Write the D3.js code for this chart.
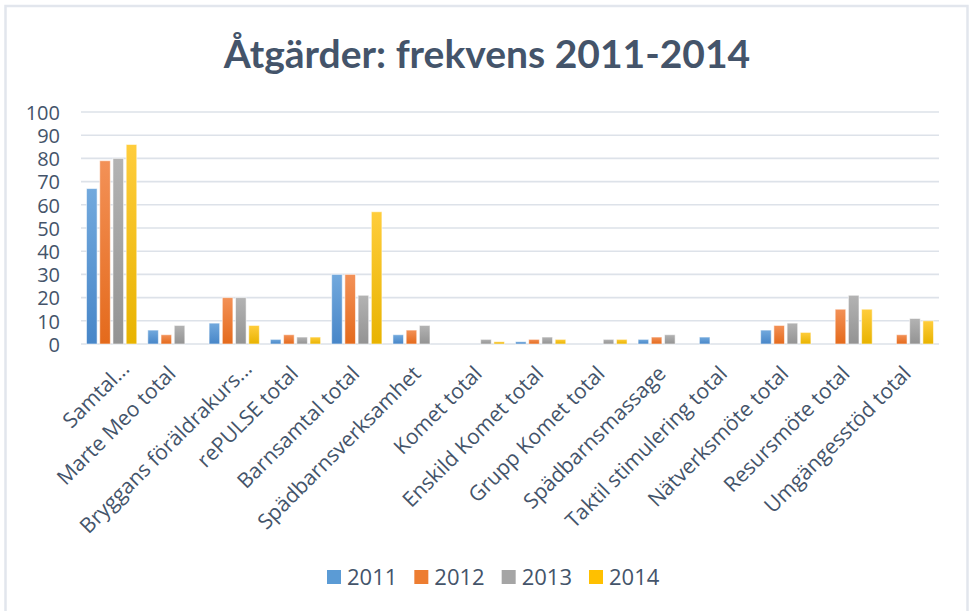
<!DOCTYPE html>
<html>
<head>
<meta charset="utf-8">
<script src="https://cdn.jsdelivr.net/npm/d3@7"></script>
<style>
  html, body { margin: 0; padding: 0; background: #fff; }
  svg { display: block; }
  text { font-family: "Open Sans", Lato, sans-serif; fill: #44546A; }
</style>
</head>
<body>
<svg id="chart" width="970" height="611"></svg>
<script>
const title = "Åtgärder: frekvens 2011-2014";
const categories = [
  "Samtal...", "Marte Meo total", "Bryggans föräldrakurs...", "rePULSE total",
  "Barnsamtal total", "Spädbarnsverksamhet", "Komet total", "Enskild Komet total",
  "Grupp Komet total", "Spädbarnsmassage", "Taktil stimulering total",
  "Nätverksmöte total", "Resursmöte total", "Umgängesstöd total"
];
const seriesNames = ["2011", "2012", "2013", "2014"];
const values2011 = [67, 6, 9, 2, 30, 4, 0, 1, 0, 2, 3, 6, 0, 0];
const values2012 = [79, 4, 20, 4, 30, 6, 0, 2, 0, 3, 0, 8, 15, 4];
const values2013 = [80, 8, 20, 3, 21, 8, 2, 3, 2, 4, 0, 9, 21, 11];
const values2014 = [86, 0, 8, 3, 57, 0, 1, 2, 2, 0, 0, 5, 15, 10];
const yTicks = [0, 10, 20, 30, 40, 50, 60, 70, 80, 90, 100];

const seriesValues = [values2011, values2012, values2013, values2014];
const colorsTop = ["#72a9dd", "#f39157", "#b3b3b3", "#ffcd3c"];
const colorsBottom = ["#4786c8", "#e46a1c", "#939393", "#e8b300"];
const colorsMid = ["#5B9BD5", "#ED7D31", "#A5A5A5", "#FFC000"];

const svg = d3.select("#chart");

// frame
svg.append("rect").attr("x", 5.5).attr("y", 6).attr("width", 962).attr("height", 640)
  .attr("fill", "none").attr("stroke", "#e2e6ed").attr("stroke-width", 2.5);

const defs = svg.append("defs");
seriesNames.forEach((s, i) => {
  const g = defs.append("linearGradient").attr("id", "grad" + i)
    .attr("x1", 0).attr("y1", 0).attr("x2", 0).attr("y2", 1);
  g.append("stop").attr("offset", "0%").attr("stop-color", colorsTop[i]);
  g.append("stop").attr("offset", "100%").attr("stop-color", colorsBottom[i]);
});

const x0 = d3.scaleBand().domain(categories).range([81, 939])
  .paddingInner(0.18).paddingOuter(0.09);
const x1 = d3.scaleBand().domain(seriesNames).range([0, x0.bandwidth()])
  .paddingInner(0.2).paddingOuter(0);
const y = d3.scaleLinear().domain([0, 100]).range([344, 112]);

// gridlines
svg.append("g").selectAll("line").data(yTicks).join("line")
  .attr("x1", 81).attr("x2", 939)
  .attr("y1", d => y(d)).attr("y2", d => y(d))
  .attr("stroke", "#dde2e9").attr("stroke-width", 1.6);

// y axis labels
const yAxis = d3.axisLeft(y).tickValues(yTicks).tickSize(0).tickPadding(0);
const yg = svg.append("g").attr("transform", "translate(60,0)").call(yAxis);
yg.select(".domain").remove();
yg.selectAll("text").attr("font-size", 20).attr("fill", "#44546A")
  .style("font-family", "'Open Sans', sans-serif").attr("dy", "0.36em");

// bars
const groups = svg.append("g").selectAll("g").data(categories).join("g")
  .attr("transform", d => `translate(${x0(d)},0)`);
groups.selectAll("rect")
  .data((c, ci) => seriesNames.map((s, si) => ({ s, si, v: seriesValues[si][ci] })))
  .join("rect")
  .filter(d => d.v > 0)
  .attr("x", d => x1(d.s))
  .attr("y", d => y(d.v))
  .attr("width", x1.bandwidth())
  .attr("height", d => y(0) - y(d.v))
  .attr("fill", d => `url(#grad${d.si})`)
  .attr("stroke", "rgba(255,255,255,0.55)")
  .attr("stroke-width", 1);

// category labels
const xl = svg.append("g");
categories.forEach(c => {
  const cx = x0(c) + x0.bandwidth() / 2;
  const trunc = c.endsWith("...");
  const ax = cx + (trunc ? 19 : 4);
  const ay = trunc ? 370 : 375;
  xl.append("text")
    .attr("transform", `translate(${ax},${ay}) rotate(-45)`)
    .attr("text-anchor", "end")
    .attr("font-size", 21)
    .text(c);
});

// title
svg.append("text").attr("x", 487).attr("y", 68).attr("text-anchor", "middle")
  .style("font-family", "Lato, sans-serif")
  .attr("font-size", 39).attr("font-weight", "bold").text(title);

// legend
const lx = d3.scalePoint().domain(seriesNames).range([327, 589]);
const leg = svg.append("g").selectAll("g").data(seriesNames).join("g")
  .attr("transform", d => `translate(${lx(d)},0)`);
leg.append("rect").attr("x", 0).attr("y", 570).attr("width", 14).attr("height", 14)
  .attr("fill", (d, i) => colorsMid[i]);
leg.append("text").attr("x", 20).attr("y", 585).attr("font-size", 22).text(d => d);
</script>
</body>
</html>
